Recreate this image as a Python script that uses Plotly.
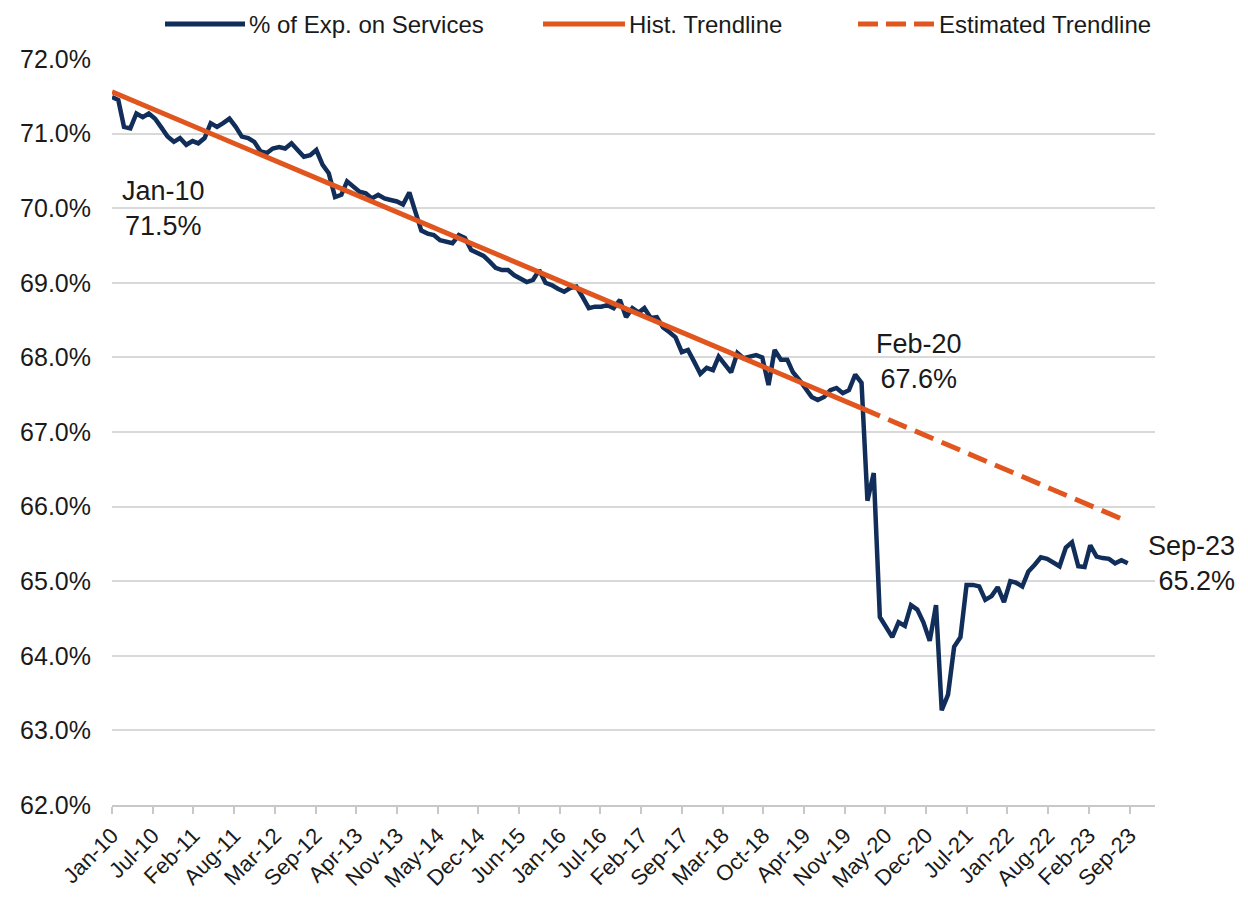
import pandas as pd
import plotly.graph_objects as go

# ---- data ----
start_month = "2010-01-01"
services_share = [
    71.49, 71.45, 71.09, 71.07, 71.27, 71.22, 71.27, 71.20, 71.08, 70.96,
    70.89, 70.94, 70.85, 70.90, 70.87, 70.94, 71.14, 71.09, 71.14, 71.20,
    71.09, 70.96, 70.94, 70.89, 70.76, 70.74, 70.80, 70.82, 70.80, 70.87,
    70.78, 70.69, 70.71, 70.78, 70.58, 70.47, 70.15, 70.18, 70.36, 70.29,
    70.22, 70.20, 70.13, 70.18, 70.13, 70.11, 70.09, 70.05, 70.21, 69.94,
    69.70, 69.66, 69.64, 69.57, 69.55, 69.53, 69.64, 69.60, 69.44, 69.40,
    69.36, 69.28, 69.20, 69.17, 69.17, 69.10, 69.05, 69.01, 69.04, 69.17,
    69.00, 68.97, 68.92, 68.88, 68.93, 68.95, 68.81, 68.66, 68.68, 68.68,
    68.70, 68.66, 68.77, 68.54, 68.66, 68.60, 68.66, 68.53, 68.54, 68.40,
    68.34, 68.27, 68.07, 68.10, 67.94, 67.78, 67.86, 67.83, 68.01, 67.90,
    67.80, 68.06, 67.99, 68.01, 68.03, 68.00, 67.63, 68.10, 67.97, 67.97,
    67.80, 67.70, 67.59, 67.47, 67.43, 67.47, 67.56, 67.59, 67.52, 67.56,
    67.77, 67.66, 66.08, 66.45, 64.52, 64.38, 64.25, 64.45, 64.40, 64.68,
    64.62, 64.45, 64.20, 64.68, 63.27, 63.48, 64.12, 64.25, 64.95, 64.95,
    64.93, 64.75, 64.80, 64.92, 64.72, 65.00, 64.98, 64.93, 65.13, 65.22,
    65.32, 65.30, 65.24, 65.20, 65.45, 65.52, 65.20, 65.19, 65.48, 65.33,
    65.31, 65.30, 65.24, 65.28, 65.24,
]
hist_trend_dates = ["2010-01-01", "2020-02-01"]
hist_trend_values = [71.56, 67.32]
est_trend_dates = ["2020-02-01", "2023-09-01"]
est_trend_values = [67.32, 65.80]

tick_labels = ["Jan-10", "Jul-10", "Feb-11", "Aug-11", "Mar-12", "Sep-12", "Apr-13",
               "Nov-13", "May-14", "Dec-14", "Jun-15", "Jan-16", "Jul-16", "Feb-17",
               "Sep-17", "Mar-18", "Oct-18", "Apr-19", "Nov-19", "May-20", "Dec-20",
               "Jul-21", "Jan-22", "Aug-22", "Feb-23", "Sep-23"]
tick_step_days = 200

series_names = ["% of Exp. on Services", "Hist. Trendline", "Estimated Trendline"]

callouts = [  # (date, label, value)
    ("2010-01-01", "Jan-10", "71.5%"),
    ("2020-02-01", "Feb-20", "67.6%"),
    ("2023-09-01", "Sep-23", "65.2%"),
]

dates = pd.date_range(start_month, periods=len(services_share), freq="MS")
tick_vals = [pd.Timestamp(start_month) + pd.Timedelta(days=tick_step_days * k)
             for k in range(len(tick_labels))]

NAVY = "#112d5a"
ORANGE = "#e0561e"
TXT = "#1a1a1a"
FONT = "Liberation Sans, Arial, sans-serif"
DASH = "20px,9px"

fig = go.Figure()
fig.add_trace(go.Scatter(x=dates, y=services_share, mode="lines",
                         name=series_names[0],
                         line=dict(color=NAVY, width=4.5)))
fig.add_trace(go.Scatter(x=pd.to_datetime(hist_trend_dates), y=hist_trend_values,
                         mode="lines", name=series_names[1],
                         line=dict(color=ORANGE, width=5)))
fig.add_trace(go.Scatter(x=pd.to_datetime(est_trend_dates), y=est_trend_values,
                         mode="lines", name=series_names[2],
                         line=dict(color=ORANGE, width=5, dash=DASH)))

# ---- custom legend (long line samples, as in the reference) ----
# plot area: 1043 px wide, 746 px tall
PW, PH = 1043.0, 746.0
legend_y = 1 + 35 / PH
legend_items = [  # (sample start px, sample end px, colour, dash) relative to plot left
    (53, 133, NAVY, "solid"),
    (431, 513, ORANGE, "solid"),
    (746, 823, ORANGE, "dash"),
]
for (x0, x1, col, dsh), name in zip(legend_items, series_names):
    fig.add_shape(type="line", xref="paper", yref="paper",
                  x0=x0 / PW, x1=x1 / PW, y0=legend_y, y1=legend_y,
                  line=dict(color=col, width=5, dash=("20px,8px" if dsh == "dash" else "solid")))
    fig.add_annotation(xref="paper", yref="paper", x=(x1 + 3) / PW, y=legend_y,
                       text=name, showarrow=False, xanchor="left", yanchor="middle",
                       borderpad=0, font=dict(size=24, color=TXT, family=FONT))

# Callout annotations
val_by_date = dict(zip(dates, services_share))
ann_font = dict(size=27, color=TXT, family=FONT)
d0, l0, v0 = callouts[0]
fig.add_annotation(x=pd.Timestamp(d0), y=70.0, text=f"{l0}<br>{v0}", showarrow=False,
                   xanchor="left", yanchor="middle", xshift=8, align="center", font=ann_font)
d1, l1, v1 = callouts[1]
fig.add_annotation(x=pd.Timestamp(d1), y=val_by_date[pd.Timestamp(d1)], text=f"{l1}<br>{v1}",
                   showarrow=False, xanchor="left", yanchor="bottom", xshift=12, yshift=-13,
                   align="center", font=ann_font)
d2, l2, v2 = callouts[2]
fig.add_annotation(x=pd.Timestamp(d2), y=val_by_date[pd.Timestamp(d2)], text=f"{l2}<br>{v2}",
                   showarrow=False, xanchor="left", yanchor="middle", xshift=18,
                   align="right", font=ann_font)

fig.update_layout(
    width=1240, height=891,
    margin=dict(l=104, r=93, t=51, b=94),
    plot_bgcolor="white", paper_bgcolor="white",
    font=dict(family=FONT, size=24, color=TXT),
    showlegend=False,
    xaxis=dict(
        type="date", automargin=False,
        range=[pd.Timestamp(start_month), pd.Timestamp(start_month) + pd.Timedelta(days=5125)],
        tickvals=tick_vals, ticktext=tick_labels, tickangle=-45,
        tickfont=dict(size=22, color=TXT),
        showgrid=False, showline=True, linecolor="#c8c8c8", linewidth=2,
        ticks="outside", ticklen=7, tickcolor="#c8c8c8", tickwidth=2,
        zeroline=False,
    ),
    yaxis=dict(
        automargin=False,
        range=[62, 72], dtick=1, tick0=62, tickformat=".1f", ticksuffix="%",
        tickfont=dict(size=25, color=TXT),
        showgrid=True, gridcolor="#d9d9d9", gridwidth=2,
        showline=False, zeroline=False, ticks="", ticklabelstandoff=20,
    ),
)

fig.write_html("out.html")
